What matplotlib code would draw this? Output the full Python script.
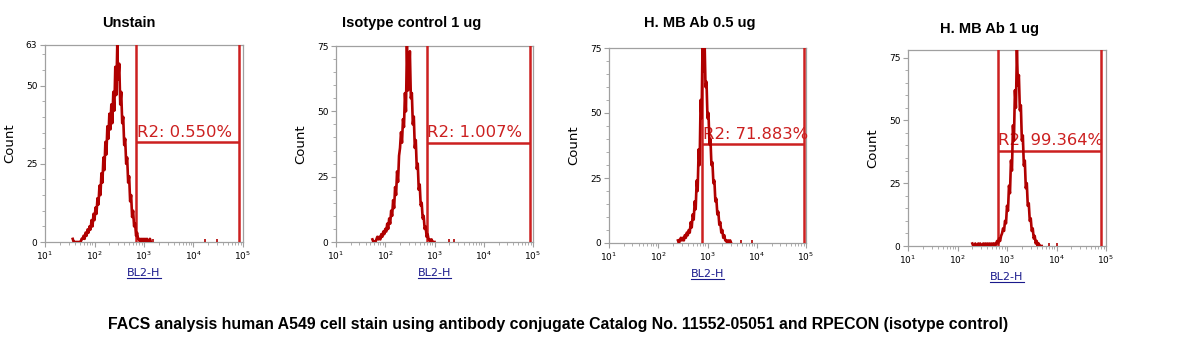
import matplotlib
matplotlib.use('Agg')
import matplotlib.pyplot as plt
import numpy as np
from matplotlib.ticker import FixedLocator, FixedFormatter, LogLocator, NullFormatter

# panel titles and gate readouts
titles = ['Unstain', 'Isotype control 1 ug', 'H. MB Ab 0.5 ug', 'H. MB Ab 1 ug']
gate_labels = ['R2: 0.550%', 'R2: 1.007%', 'R2: 71.883%', 'R2: 99.364%']
y_max = [63, 75, 75, 78]
y_ticks = [[0, 25, 50, 63], [0, 25, 50, 75], [0, 25, 50, 75], [0, 25, 50, 75]]

# gate (log10 of BL2-H): left edge, right edge, marker height
gate_lo = [2.84, 2.84, 2.89, 2.81]
gate_hi = [4.91, 4.93, 4.96, 4.89]
gate_y = [32, 38, 38, 38]

# histogram counts, first channel log10 position and channel step (log10)
start1, step1 = 1.56, 0.02
counts1 = [1, 0, 0, 0, 0, 0, 0, 0, 0, 1, 1, 2, 1, 3, 2, 4, 3, 5, 4, 7,
           5, 9, 7, 11, 9, 14, 12, 18, 15, 22, 19, 27, 23, 32, 28, 37, 33, 41, 36, 44,
           38, 48, 42, 56, 47, 63, 52, 57, 44, 48, 38, 40, 31, 33, 25, 27, 19, 21, 13, 15,
           8, 10, 5, 6, 2, 3, 1, 1, 0, 1, 0, 1, 0, 1, 0, 1, 0, 0, 1, 0]

start2, step2 = 1.74, 0.02
counts2 = [1, 0, 0, 0, 1, 2, 1, 2, 1, 3, 2, 4, 3, 5, 4, 7, 5, 9, 7, 12,
           10, 16, 13, 21, 18, 27, 23, 33, 36, 42, 38, 47, 44, 57, 50, 75, 58, 62, 73, 55,
           57, 45, 48, 36, 39, 28, 30, 20, 22, 14, 15, 9, 10, 5, 6, 2, 3, 1, 1, 0,
           1, 0, 0, 0]

start3, step3 = 2.40, 0.02
counts3 = [1, 0, 1, 2, 1, 2, 1, 3, 2, 4, 3, 5, 4, 8, 6, 11, 9, 16, 13, 24,
           20, 36, 30, 55, 48, 78, 66, 78, 60, 62, 48, 50, 38, 40, 30, 31, 23, 24, 16, 17,
           11, 12, 7, 8, 4, 5, 2, 3, 1, 1, 0, 1, 0, 1, 0]

start4, step4 = 2.30, 0.02
counts4 = [1, 0, 0, 1, 0, 0, 1, 0, 1, 0, 0, 1, 0, 1, 0, 1, 0, 1, 0, 1,
           0, 1, 1, 0, 1, 2, 1, 3, 2, 4, 5, 7, 6, 10, 9, 16, 14, 24, 21, 34,
           30, 48, 42, 62, 55, 78, 64, 68, 54, 56, 42, 44, 32, 34, 23, 25, 16, 17, 10, 11,
           6, 7, 3, 4, 1, 2, 0, 1, 0, 0, 0]

# isolated events far from the peak (log10 position, count)
spikes1 = [(3.05, 1), (3.18, 1), (4.23, 1), (4.47, 1)]
spikes2 = [(3.30, 1), (3.40, 1)]
spikes3 = [(3.69, 1), (3.90, 1)]
spikes4 = [(3.85, 1), (4.00, 1)]

starts = [start1, start2, start3, start4]
steps = [step1, step2, step3, step4]
counts = [counts1, counts2, counts3, counts4]
spikes = [spikes1, spikes2, spikes3, spikes4]

W, H = 1188, 363
# axes boxes in pixels: left, top, right, bottom
boxes = [(45, 45, 243, 242), (336, 46, 533, 242), (609, 48, 806, 243), (908, 50, 1106, 246)]
title_pos = [(129, 23), (412, 23), (700, 23), (990, 29)]

hist_color = '#b00000'
gate_color = '#cc2020'
frame_color = '#a0a0a0'

fig = plt.figure(figsize=(W / 100, H / 100), dpi=100)

for i in range(4):
    l, t, r, b = boxes[i]
    ax = fig.add_axes([l / W, 1 - b / H, (r - l) / W, (b - t) / H])
    ax.set_xscale('log')
    ax.set_xlim(10, 1e5)
    ax.set_ylim(0, y_max[i])

    c = np.array(counts[i], dtype=float)
    x = 10 ** (starts[i] + steps[i] * np.arange(len(c)))
    ax.plot(x, c, color=hist_color, lw=1.9, zorder=6)
    for sx, sc in spikes[i]:
        ax.vlines(10 ** sx, 0, sc, color=hist_color, lw=1.2, zorder=6)

    # gate marker
    ax.axvline(10 ** gate_lo[i], color=gate_color, lw=1.8, zorder=4)
    ax.axvline(10 ** gate_hi[i], color=gate_color, lw=1.8, zorder=4)
    ax.hlines(gate_y[i], 10 ** gate_lo[i], 10 ** gate_hi[i], color=gate_color, lw=1.8, zorder=4)
    ax.text(10 ** gate_lo[i] * 1.02, gate_y[i] + y_max[i] * 0.012, gate_labels[i],
            color=gate_color, fontsize=11.8, ha='left', va='bottom', zorder=5)

    for s in ax.spines.values():
        s.set_color(frame_color)
        s.set_linewidth(0.9)

    ax.xaxis.set_major_locator(FixedLocator([10, 100, 1e3, 1e4, 1e5]))
    ax.xaxis.set_major_formatter(FixedFormatter(['$10^{1}$', '$10^{2}$', '$10^{3}$', '$10^{4}$', '$10^{5}$']))
    ax.xaxis.set_minor_locator(LogLocator(base=10, subs=np.arange(2, 10)))
    ax.xaxis.set_minor_formatter(NullFormatter())
    ax.yaxis.set_major_locator(FixedLocator(y_ticks[i]))
    ax.yaxis.set_minor_locator(FixedLocator(np.arange(0, y_max[i], 5)))
    ax.tick_params(which='major', direction='out', length=3.5, width=0.8,
                   color=frame_color, labelsize=6.5, pad=2)
    ax.tick_params(which='minor', direction='out', length=2, width=0.6, color=frame_color)

    ax.set_ylabel('Count', fontsize=9.5, labelpad=7)
    ax.set_xlabel('BL2-H', fontsize=8, color='#1a1a8c', labelpad=4)
    # underline the axis name like a hyperlink
    ax.plot([0.415, 0.585], [-0.185, -0.185], transform=ax.transAxes,
            color='#1a1a8c', lw=0.8, clip_on=False)

    tx, ty = title_pos[i]
    fig.text(tx / W, 1 - ty / H, titles[i], fontsize=10.5, fontweight='bold',
             family='Liberation Sans', ha='center', va='center')

fig.text(558 / W, 1 - 325 / H,
         'FACS analysis human A549 cell stain using antibody conjugate Catalog No. 11552-05051 and RPECON (isotype control)',
         fontsize=11.4, fontweight='bold', family='Liberation Sans', ha='center', va='center')

fig.savefig('out.png', dpi=100)
